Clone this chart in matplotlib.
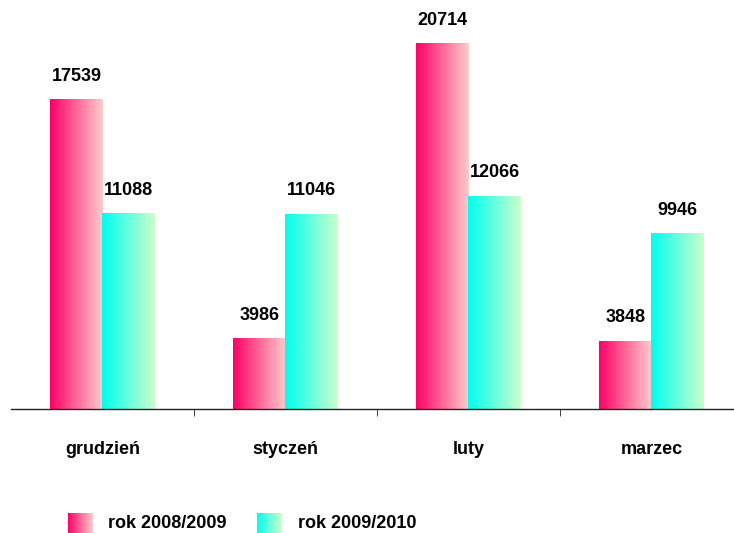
import numpy as np
import matplotlib
matplotlib.use("Agg")
import matplotlib.pyplot as plt
from matplotlib.colors import LinearSegmentedColormap

plt.rcParams["font.family"] = ["Liberation Sans", "DejaVu Sans"]

miesiace = ["grudzień", "styczeń", "luty", "marzec"]
rok_2008 = [17539, 3986, 20714, 3848]
rok_2009 = [11088, 11046, 12066, 9946]
serie = ["rok 2008/2009", "rok 2009/2010"]

# gradient poziomy dla kazdej serii
cmap_pink = LinearSegmentedColormap.from_list("pink", ["#ff0066", "#ffcccc"])
cmap_cyan = LinearSegmentedColormap.from_list("cyan", ["#00ffee", "#ccffcc"])
grad = np.linspace(0, 1, 256).reshape(1, -1)

fig = plt.figure(figsize=(7.34, 5.33), dpi=100)
ax = fig.add_axes([0.015, 0.2326, 0.997, 0.7674])

x = np.arange(len(miesiace))
w = 0.285

def gradient_bar(xl, h, cmap):
    ax.imshow(grad, cmap=cmap, extent=(xl, xl + w, 0, h),
              aspect="auto", interpolation="bilinear", zorder=2)

for i in range(len(miesiace)):
    gradient_bar(x[i] - w, rok_2008[i], cmap_pink)
    gradient_bar(x[i], rok_2009[i], cmap_cyan)
    ax.text(x[i] - w / 2, rok_2008[i] + 1340, str(rok_2008[i]),
            ha="center", va="center", fontsize=13, fontweight="bold")
    ax.text(x[i] + w / 2, rok_2009[i] + 1340, str(rok_2009[i]),
            ha="center", va="center", fontsize=13, fontweight="bold")

ax.set_xlim(-0.5, 3.5)
ax.set_ylim(0, 23212)

for s in ["top", "right", "left"]:
    ax.spines[s].set_visible(False)
ax.spines["bottom"].set_linewidth(1.0)
ax.spines["bottom"].set_color("#222222")
ax.set_yticks([])

ax.set_xticks(x)
ax.set_xticklabels(miesiace, fontsize=13, fontweight="bold")
ax.tick_params(axis="x", which="major", length=0, pad=23)
ax.set_xticks([0.5, 1.5, 2.5], minor=True)
ax.tick_params(axis="x", which="minor", length=5, direction="out", color="#222222")

# legenda
lax = fig.add_axes([0, 0, 1, 1], zorder=-1)
lax.axis("off")
for (x0, tx, cmap, lab) in [(68, 108, cmap_pink, serie[0]), (257, 298, cmap_cyan, serie[1])]:
    lax.imshow(grad, cmap=cmap, extent=(x0, x0 + 25, 533, 513),
               aspect="auto", interpolation="bilinear")
    lax.text(tx, 523, lab, ha="left", va="center", fontsize=13, fontweight="bold")
lax.set_xlim(0, 734)
lax.set_ylim(533, 0)

fig.savefig("out.png", dpi=100)
